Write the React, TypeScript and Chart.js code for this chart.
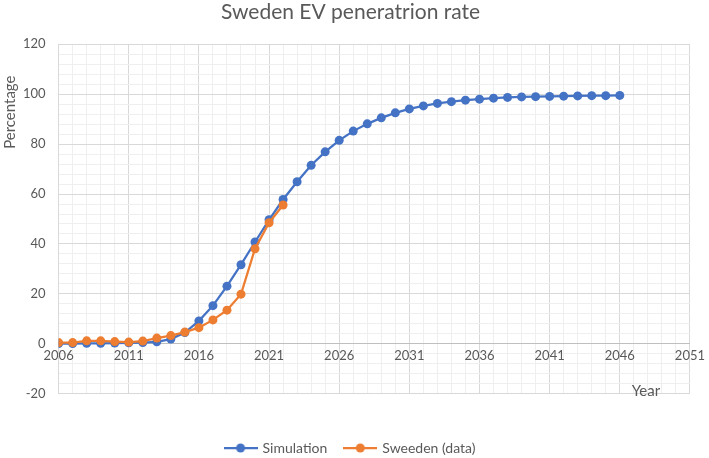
import React, { useEffect, useRef } from "react";
import { Chart, registerables } from "chart.js";

Chart.register(...registerables);

const chartTitle = "Sweden EV peneratrion rate";
const yTitle = "Percentage";
const xTitle = "Year";

const simLabel = "Simulation";
const simYears = [
  2006, 2007, 2008, 2009, 2010, 2011, 2012, 2013, 2014, 2015,
  2016, 2017, 2018, 2019, 2020, 2021, 2022, 2023, 2024, 2025,
  2026, 2027, 2028, 2029, 2030, 2031, 2032, 2033, 2034, 2035,
  2036, 2037, 2038, 2039, 2040, 2041, 2042, 2043, 2044, 2045, 2046,
];
const simValues = [
  0.1, 0.1, 0.2, 0.2, 0.3, 0.4, 0.5, 0.8, 1.9, 4.5,
  9.2, 15.3, 23.1, 31.7, 40.8, 49.7, 57.8, 64.9, 71.5, 76.9,
  81.5, 85.2, 88.1, 90.5, 92.5, 94.1, 95.3, 96.3, 97.0, 97.6,
  98.0, 98.4, 98.7, 98.9, 99.0, 99.1, 99.2, 99.3, 99.4, 99.4, 99.5,
];

const dataLabel = "Sweeden (data)";
const dataYears = [
  2006, 2007, 2008, 2009, 2010, 2011, 2012, 2013, 2014, 2015,
  2016, 2017, 2018, 2019, 2020, 2021, 2022,
];
const dataValues = [
  0.5, 0.5, 1.2, 1.2, 0.9, 0.7, 1.1, 2.3, 3.3, 4.7,
  6.5, 9.6, 13.5, 19.9, 38.1, 48.5, 55.6,
];

const xMin = 2006;
const xMax = 2051;
const xMajorStep = 5;
const yMin = -20;
const yMax = 120;
const yMajorStep = 20;

const BLUE = "#4472C4";
const ORANGE = "#ED7D31";
const TEXT = "#595959";
const FONT = "Lato";

function makeIcon(color: string): HTMLCanvasElement {
  const c = document.createElement("canvas");
  c.width = 34;
  c.height = 10;
  const g = c.getContext("2d")!;
  g.strokeStyle = color;
  g.lineWidth = 2.25;
  g.beginPath();
  g.moveTo(0, 5);
  g.lineTo(34, 5);
  g.stroke();
  g.fillStyle = color;
  g.beginPath();
  g.arc(17, 5, 4.5, 0, Math.PI * 2);
  g.fill();
  return c;
}

const axisTitlesPlugin = {
  id: "axisTitles",
  afterDraw(chart: any) {
    const { ctx, chartArea } = chart;
    ctx.save();
    ctx.fillStyle = TEXT;
    ctx.font = `15px ${FONT}`;
    ctx.textAlign = "center";
    ctx.textBaseline = "middle";
    ctx.fillText(xTitle, chartArea.right - 44, chartArea.bottom - 3);
    ctx.translate(chartArea.left - 48, chartArea.top + 68);
    ctx.rotate(-Math.PI / 2);
    ctx.fillText(yTitle, 0, 0);
    ctx.restore();
  },
};

const isXMajor = (v: number) => Math.abs((v - xMin) % xMajorStep) < 1e-6;
const isYMajor = (v: number) => Math.abs(v % yMajorStep) < 1e-6;

export default function App() {
  const ref = useRef<HTMLCanvasElement | null>(null);

  useEffect(() => {
    if (!ref.current) return;
    const icons = [makeIcon(BLUE), makeIcon(ORANGE)];
    const chart = new Chart(ref.current, {
      type: "line",
      data: {
        datasets: [
          {
            label: simLabel,
            data: simYears.map((x, i) => ({ x, y: simValues[i] })),
            borderColor: BLUE,
            backgroundColor: BLUE,
            pointBackgroundColor: BLUE,
            pointBorderColor: BLUE,
            borderWidth: 2.25,
            pointRadius: 4.5,
            pointBorderWidth: 0,
            tension: 0,
            order: 1,
          },
          {
            label: dataLabel,
            data: dataYears.map((x, i) => ({ x, y: dataValues[i] })),
            borderColor: ORANGE,
            backgroundColor: ORANGE,
            pointBackgroundColor: ORANGE,
            pointBorderColor: ORANGE,
            borderWidth: 2.25,
            pointRadius: 4.5,
            pointBorderWidth: 0,
            tension: 0,
            order: 0,
          },
        ],
      },
      options: {
        responsive: false,
        animation: false,
        layout: { padding: { left: 10, right: 18, top: 0, bottom: -7 } },
        font: { family: FONT },
        plugins: {
          title: {
            display: true,
            text: chartTitle,
            color: TEXT,
            font: { family: FONT, size: 21, weight: "normal" },
            padding: { top: 0, bottom: 19 },
          },
          legend: {
            position: "bottom",
            title: {
              display: true,
              text: "",
              font: { size: 1 },
              padding: { top: 0, bottom: 28 },
            },
            labels: {
              usePointStyle: true,
              pointStyleWidth: 30,
              padding: 18,
              color: TEXT,
              font: { family: FONT, size: 14 },
              generateLabels: (c: any) =>
                c.data.datasets.map((ds: any, i: number) => ({
                  text: ds.label,
                  fillStyle: ds.borderColor,
                  strokeStyle: ds.borderColor,
                  lineWidth: 0,
                  pointStyle: icons[i],
                  hidden: false,
                  datasetIndex: i,
                  fontColor: TEXT,
                })),
            },
          },
          tooltip: { enabled: false },
        },
        scales: {
          x: {
            type: "linear",
            min: xMin,
            max: xMax,
            position: { y: 0 } as any,
            ticks: {
              stepSize: 1,
              autoSkip: false,
              maxRotation: 0,
              padding: 4,
              color: TEXT,
              font: { family: FONT, size: 13 },
              callback: (v: any) => (isXMajor(Number(v)) ? String(v) : ""),
            },
            grid: {
              drawTicks: false,
              color: (ctx: any) =>
                ctx.tick && isXMajor(Number(ctx.tick.value)) ? "#d9d9d9" : "#efefef",
              lineWidth: 1,
            },
            border: { display: true, color: "#bfbfbf", width: 1 },
          },
          y: {
            type: "linear",
            min: yMin,
            max: yMax,
            ticks: {
              stepSize: 4,
              autoSkip: false,
              padding: 13,
              color: TEXT,
              font: { family: FONT, size: 13 },
              callback: (v: any) => (isYMajor(Number(v)) ? String(v) : ""),
            },
            grid: {
              drawTicks: false,
              color: (ctx: any) =>
                ctx.tick && isYMajor(Number(ctx.tick.value)) ? "#d9d9d9" : "#efefef",
              lineWidth: 1,
            },
            border: { display: true, color: "#d9d9d9", width: 1 },
          },
        },
      },
      plugins: [axisTitlesPlugin],
    } as any);
    return () => chart.destroy();
  }, []);

  return (
    <div style={{ position: "fixed", left: 0, top: 0, width: 709, height: 458, background: "#fff" }}>
      <canvas ref={ref} width={709} height={458} style={{ width: 709, height: 458, display: "block" }} />
    </div>
  );
}
